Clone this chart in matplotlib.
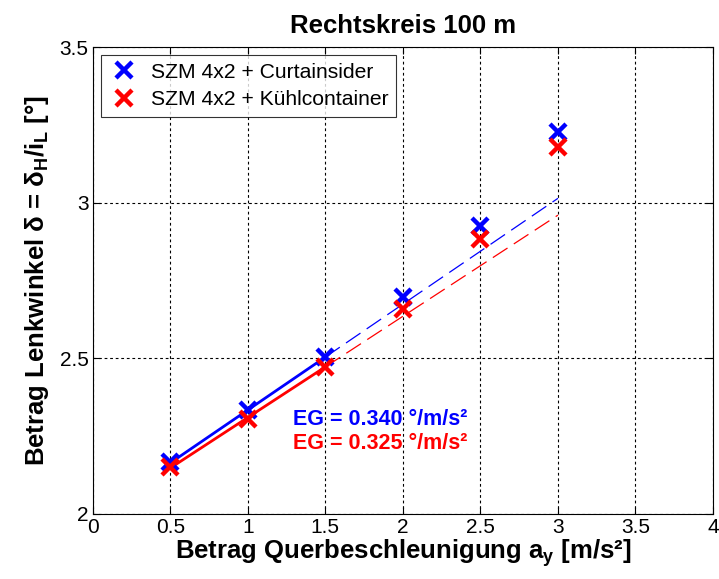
import matplotlib
matplotlib.use("Agg")
import matplotlib.pyplot as plt
import numpy as np

font = 'Liberation Sans'
plt.rcParams['font.family'] = [font, 'DejaVu Sans']
plt.rcParams['mathtext.fontset'] = 'custom'
plt.rcParams['mathtext.rm'] = font
plt.rcParams['mathtext.it'] = font
plt.rcParams['mathtext.bf'] = font + ':bold'

# Data
ay = [0.5, 1.0, 1.5, 2.0, 2.5, 3.0]
delta_curtain = [2.167, 2.334, 2.504, 2.697, 2.925, 3.228]
delta_kuehl = [2.151, 2.305, 2.472, 2.659, 2.883, 3.180]
labels = ["SZM 4x2 + Curtainsider", "SZM 4x2 + Kühlcontainer"]
eg_curtain = 0.340
eg_kuehl = 0.325
icpt_curtain = 1.994
icpt_kuehl = 1.985
fit_solid_x = [0.5, 1.5]
fit_dash_x = [1.5, 3.0]
xtick_labels = ['0', '0.5', '1', '1.5', '2', '2.5', '3', '3.5', '4']
ytick_labels = ['2', '2.5', '3', '3.5']

fig = plt.figure(figsize=(7.19, 5.79), dpi=100)
ax = fig.add_axes([0.129, 0.1123, 0.8627, 0.8065])

for d, c, lab, eg, ic in [(delta_curtain, 'blue', labels[0], eg_curtain, icpt_curtain),
                           (delta_kuehl, 'red', labels[1], eg_kuehl, icpt_kuehl)]:
    xs = np.array(fit_solid_x)
    ax.plot(xs, ic + eg * xs, color=c, lw=2, zorder=3)
    xd = np.array(fit_dash_x)
    ax.plot(xd, ic + eg * xd, color=c, lw=0.9, ls=(0, (14, 6)), zorder=3)
    ax.plot(ay, d, ls='none', marker='x', ms=11, mew=3.2, color=c, label=lab, zorder=4)

ax.set_xlim(0, 4)
ax.set_ylim(2, 3.5)
ax.set_xticks(np.arange(0, 4.01, 0.5))
ax.set_yticks(np.arange(2, 3.51, 0.5))
ax.set_xticklabels(xtick_labels)
ax.set_yticklabels(ytick_labels)
ax.tick_params(direction='in', top=True, right=True, length=5, labelsize=15, pad=3, width=0.8)
ax.grid(True, color='black', ls=(0, (2.5, 2.5)), lw=0.8)
for s in ax.spines.values():
    s.set_linewidth(0.8)

ax.set_title('Rechtskreis 100 m', fontsize=18.5, fontweight='bold', pad=10)
ax.set_xlabel(r'Betrag Querbeschleunigung a$_\mathbf{y}$ [m/s²]', fontsize=18.5, fontweight='bold', labelpad=0)
ax.set_ylabel(r'Betrag Lenkwinkel $\mathbf{\delta}$ = $\mathbf{\delta_H/i_L}$ [°]', fontsize=18.5, fontweight='bold', labelpad=6)

ax.text(1.29, 2.305, 'EG = 0.340 °/m/s²', color='blue', fontsize=15.5, fontweight='bold', va='center')
ax.text(1.29, 2.226, 'EG = 0.325 °/m/s²', color='red', fontsize=15.5, fontweight='bold', va='center')

leg = ax.legend(loc='upper left', frameon=True, fancybox=False, edgecolor='black',
                borderaxespad=0.4, handlelength=1.5, borderpad=0.35, labelspacing=0.4,
                handletextpad=0.5, prop={'size': 15.2})
leg.get_frame().set_linewidth(0.8)

fig.savefig('out.png', dpi=100)
